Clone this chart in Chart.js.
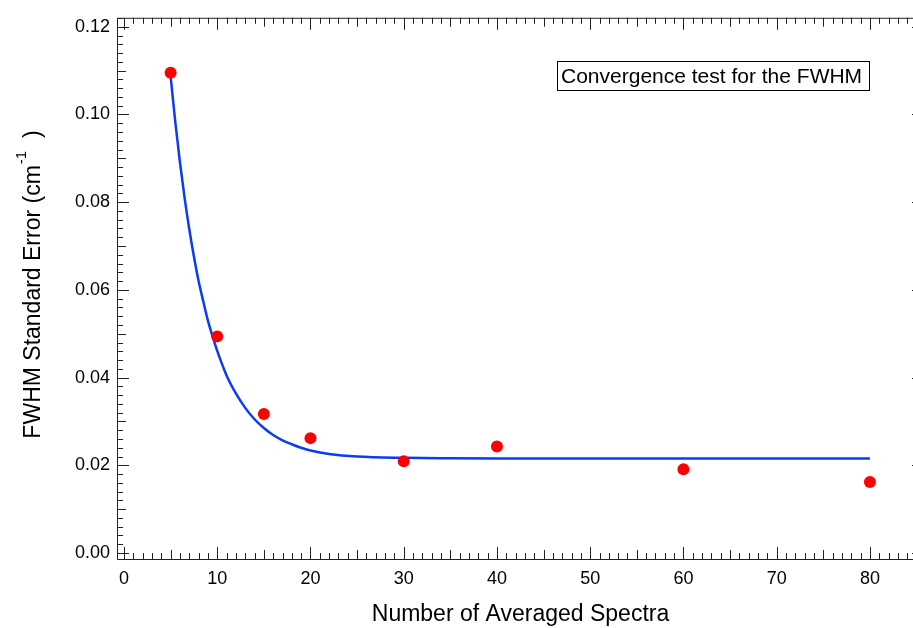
<!DOCTYPE html>
<html>
<head>
<meta charset="utf-8">
<script src="https://cdn.jsdelivr.net/npm/chart.js@4.4.0/dist/chart.umd.min.js"></script>
<style>
  html, body { margin: 0; padding: 0; background: #fff; overflow: hidden; }
  #wrap { width: 935px; height: 628px; }
</style>
</head>
<body>
<div id="wrap"><canvas id="fwhmChart" width="935" height="628"></canvas></div>
<script>
// measured points
const spectraCounts = [5, 10, 15, 20, 30, 40, 60, 80];
const fwhmErrors = [0.1095, 0.0494, 0.0317, 0.0262, 0.0209, 0.0243, 0.0191, 0.0162];

// fitted curve
const fitX = [5, 5.5, 6, 6.5, 7, 7.5, 8, 8.5, 9, 9.5, 10, 11, 12, 13, 14, 15, 16, 17, 18, 19, 20,
              22, 25, 30, 35, 40, 50, 60, 70, 80];
const fitY = [0.1087, 0.0983, 0.0891, 0.0810, 0.0739, 0.0676, 0.0620, 0.0574, 0.0530, 0.0494, 0.0461,
              0.0405, 0.0364, 0.0331, 0.0305, 0.0285, 0.0269, 0.0257, 0.0248, 0.0240, 0.0234,
              0.0226, 0.0220, 0.0217, 0.0216, 0.02156, 0.02155, 0.02155, 0.02155, 0.02155];

const xTicks = [0, 10, 20, 30, 40, 50, 60, 70, 80];
const yTicks = [0, 0.02, 0.04, 0.06, 0.08, 0.10, 0.12];

const xTitle = 'Number of Averaged Spectra';
const yTitle = ['FWHM Standard Error (cm', '-1', '  )'];
const boxLabel = 'Convergence test for the FWHM';

const FONT = '"Liberation Sans", Arial, sans-serif';
const AXIS = '#222';

// inward ticks on all four sides + y title + annotation box
const framePlugin = {
  id: 'frame',
  afterDatasetsDraw(chart) {
    const ctx = chart.ctx;
    const a = chart.chartArea;
    const xs = chart.scales.x, ys = chart.scales.y;
    ctx.save();
    ctx.strokeStyle = AXIS;
    ctx.lineWidth = 1;
    ctx.beginPath();
    ctx.moveTo(a.left + 0.5, a.top + 0.5);
    ctx.lineTo(a.right + 0.5, a.top + 0.5);
    ctx.lineTo(a.right + 0.5, a.bottom + 0.5);
    ctx.lineTo(a.left + 0.5, a.bottom + 0.5);
    ctx.closePath();
    ctx.stroke();

    ctx.beginPath();
    for (let i = Math.ceil(xs.min); i <= xs.max; i++) {
      const px = Math.round(xs.getPixelForValue(i)) + 0.5;
      const len = i % 10 === 0 ? 12 : (i % 5 === 0 ? 9 : 6);
      ctx.moveTo(px, a.bottom); ctx.lineTo(px, a.bottom - len);
      ctx.moveTo(px, a.top); ctx.lineTo(px, a.top + len);
    }
    for (let i = 0; i * 0.002 <= ys.max; i++) {
      const py = Math.round(ys.getPixelForValue(i * 0.002)) + 0.5;
      const len = i % 10 === 0 ? 12 : (i % 5 === 0 ? 9 : 6);
      ctx.moveTo(a.left, py); ctx.lineTo(a.left + len, py);
      ctx.moveTo(a.right, py); ctx.lineTo(a.right - len, py);
    }
    ctx.stroke();

    ctx.fillStyle = '#000';
    ctx.textBaseline = 'alphabetic';

    // y title with superscript
    ctx.save();
    ctx.translate(40, 285);
    ctx.rotate(-Math.PI / 2);
    ctx.textAlign = 'left';
    const mainFont = '23px ' + FONT;
    const supFont = '15px ' + FONT;
    ctx.font = mainFont;
    const w0 = ctx.measureText(yTitle[0]).width;
    const w2 = ctx.measureText(yTitle[2]).width;
    ctx.font = supFont;
    const w1 = ctx.measureText(yTitle[1]).width;
    const x0 = -(w0 + w1 + w2) / 2;
    ctx.font = mainFont;
    ctx.fillText(yTitle[0], x0, 0);
    ctx.font = supFont;
    ctx.fillText(yTitle[1], x0 + w0 + 1, -14);
    ctx.font = mainFont;
    ctx.fillText(yTitle[2], x0 + w0 + w1 + 1, 0);
    ctx.restore();

    // annotation box
    ctx.font = '21px ' + FONT;
    ctx.textAlign = 'left';
    ctx.fillText(boxLabel, 561, 83);
    ctx.strokeStyle = '#000';
    ctx.strokeRect(557.5, 61.5, 312, 29);
    ctx.restore();
  }
};

const ctx = document.getElementById('fwhmChart').getContext('2d');
const myChart = new Chart(ctx, {
  type: 'scatter',
  data: {
    datasets: [{
      label: 'fit',
      data: fitX.map((x, i) => ({ x: x, y: fitY[i] })),
      showLine: true,
      borderColor: '#0a3cf5',
      borderWidth: 2.5,
      pointRadius: 0,
      cubicInterpolationMode: 'monotone',
      order: 2
    }, {
      label: 'FWHM standard error',
      data: spectraCounts.map((x, i) => ({ x: x, y: fwhmErrors[i] })),
      backgroundColor: '#ff0000',
      borderColor: '#ff0000',
      pointRadius: 6,
      borderWidth: 0,
      order: 1
    }]
  },
  options: {
    responsive: false,
    animation: false,
    layout: { padding: { left: 0, top: 15, right: 11, bottom: 0 } },
    plugins: { legend: { display: false }, tooltip: { enabled: false } },
    scales: {
      x: {
        type: 'linear',
        min: -0.75,
        max: 85.8,
        afterBuildTicks: s => { s.ticks = xTicks.map(v => ({ value: v })); },
        afterFit: s => { s.height = 69; },
        grid: { display: false, drawTicks: false },
        border: { display: false },
        title: { display: true, text: xTitle, color: '#000', padding: { top: 11, bottom: 0 },
                 font: { family: FONT, size: 23 } },
        ticks: { color: '#000', padding: 9, maxRotation: 0, font: { family: FONT, size: 18 } }
      },
      y: {
        type: 'linear',
        min: -0.00136,
        max: 0.12204,
        afterBuildTicks: s => { s.ticks = yTicks.map(v => ({ value: v })); },
        afterFit: s => { s.width = 117; },
        grid: { display: false, drawTicks: false },
        border: { display: false },
        ticks: { color: '#000', padding: 7, font: { family: FONT, size: 18 },
                 callback: v => v.toFixed(2) }
      }
    }
  },
  plugins: [framePlugin]
});
</script>
</body>
</html>
